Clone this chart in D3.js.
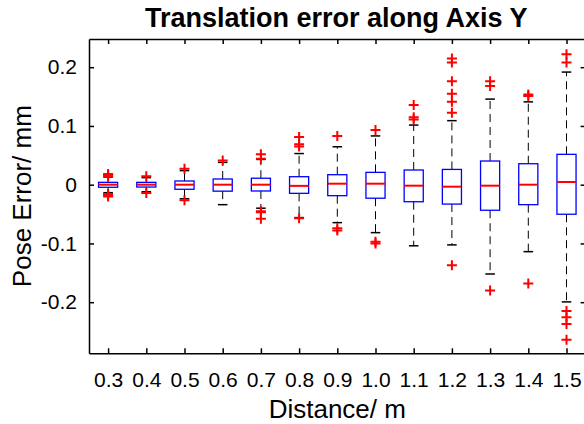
<!DOCTYPE html>
<html>
<head>
<script src="https://cdn.jsdelivr.net/npm/d3@7"></script>
<style>
  body { margin: 0; background: #fff; }
  text { font-family: "Liberation Sans", Arial, sans-serif; }
</style>
</head>
<body>
<svg id="chart" width="584" height="424"></svg>
<script>
// categories (distance in m)
var categories = ["0.3","0.4","0.5","0.6","0.7","0.8","0.9","1.0","1.1","1.2","1.3","1.4","1.5"];
// box statistics (mm)
var q1s      = [-0.0044,-0.004,-0.0078,-0.011,-0.0107,-0.0147,-0.0187,-0.023,-0.029,-0.033,-0.0435,-0.034,-0.0503];
var medians  = [0, 0, 0, 0, 0, -0.002, 0.0017, 0.0017, -0.0017, -0.0034, -0.0017, 0, 0.0046];
var q3s      = [0.004, 0.004, 0.0063, 0.0097, 0.011, 0.0136, 0.017, 0.021, 0.025, 0.026, 0.0403, 0.0357, 0.0517];
var lowWhisk = [-0.0136,-0.012,-0.024,-0.034,-0.040,-0.056,-0.0646,-0.0816,-0.104,-0.1025,-0.152,-0.114,-0.1995];
var highWhisk= [0.013, 0.012, 0.024, 0.038, 0.043, 0.053, 0.0646, 0.083, 0.1015, 0.109, 0.1457, 0.141, 0.1917];
var outliers = [
  [0.018, 0.016, 0.014, -0.016, -0.018, -0.020],
  [0.0145, -0.014],
  [0.027, -0.0265],
  [0.041],
  [0.052, 0.044, -0.045, -0.047, -0.058],
  [0.081, 0.069, 0.065, -0.057],
  [0.083, -0.074, -0.078],
  [0.093, -0.097, -0.100],
  [0.1355, 0.1146, 0.111],
  [0.215, 0.208, 0.176, 0.155, 0.141, 0.1224, -0.137],
  [0.176, 0.168, -0.18],
  [0.1537, 0.151, -0.168],
  [0.222, 0.208, -0.215, -0.2255, -0.237, -0.264]
];
var yTicks = [-0.2, -0.1, 0, 0.1, 0.2];
var yTickLabels = ["-0.2", "-0.1", "0", "0.1", "0.2"];

// layout
var margin = {left: 89, right: 585.6, top: 39, bottom: 353.3};
var svg = d3.select("svg#chart");

var x = d3.scaleLinear().domain([0.5, categories.length + 0.5]).range([margin.left, margin.right]);
var y = d3.scaleLinear().domain([-0.287, 0.248]).range([margin.bottom, margin.top]);
var step = x(2) - x(1);
var boxW = step * 0.5, capW = boxW * 0.5, plus = 5;

// title and axis labels
svg.append("text").attr("x", (margin.left + margin.right) / 2 - 1).attr("y", 27).attr("text-anchor", "middle")
    .style("font-size", "27px").style("font-weight", "bold").text("Translation error along Axis Y");
svg.append("text").attr("x", (margin.left + margin.right) / 2).attr("y", 418).attr("text-anchor", "middle")
    .style("font-size", "26px").text("Distance/ m");
svg.append("text").attr("transform", "translate(31," + ((margin.top + margin.bottom) / 2) + ") rotate(-90)")
    .attr("text-anchor", "middle").style("font-size", "26px").text("Pose Error/ mm");

// boxes
var g = svg.append("g");
categories.forEach(function(c, i) {
    var cx = x(i + 1);
    var dash = "8,5";
    // whiskers
    g.append("line").attr("x1", cx).attr("x2", cx).attr("y1", y(q3s[i])).attr("y2", y(highWhisk[i]))
        .attr("stroke", "#000").attr("stroke-width", 1).attr("stroke-dasharray", dash);
    g.append("line").attr("x1", cx).attr("x2", cx).attr("y1", y(q1s[i])).attr("y2", y(lowWhisk[i]))
        .attr("stroke", "#000").attr("stroke-width", 1).attr("stroke-dasharray", dash);
    // caps
    [highWhisk[i], lowWhisk[i]].forEach(function(v) {
        g.append("line").attr("x1", cx - capW / 2).attr("x2", cx + capW / 2).attr("y1", y(v)).attr("y2", y(v))
            .attr("stroke", "#000").attr("stroke-width", 1.5);
    });
    // box
    g.append("rect").attr("x", cx - boxW / 2).attr("y", y(q3s[i])).attr("width", boxW)
        .attr("height", y(q1s[i]) - y(q3s[i])).attr("fill", "none").attr("stroke", "#0000ff").attr("stroke-width", 1.3);
    // median
    g.append("line").attr("x1", cx - boxW / 2).attr("x2", cx + boxW / 2).attr("y1", y(medians[i])).attr("y2", y(medians[i]))
        .attr("stroke", "#ff0000").attr("stroke-width", 2);
    // outliers
    outliers[i].forEach(function(v) {
        g.append("path").attr("d", "M" + (cx - plus) + "," + y(v) + "H" + (cx + plus) + "M" + cx + "," + (y(v) - plus) + "V" + (y(v) + plus))
            .attr("stroke", "#ff0000").attr("stroke-width", 2).attr("fill", "none");
    });
});

// axes with inward ticks on all sides
var tickLen = 5;
var cats = categories.map(function(c, i) { return i + 1; });
var xb = d3.axisBottom(x).tickValues(cats).tickFormat(function(d) { return categories[d - 1]; }).tickSizeInner(-tickLen).tickSizeOuter(0).tickPadding(19);
var xt = d3.axisTop(x).tickValues(cats).tickFormat("").tickSizeInner(-tickLen).tickSizeOuter(0);
var yl = d3.axisLeft(y).tickValues(yTicks).tickFormat(function(d, k) { return yTickLabels[k]; }).tickSizeInner(-tickLen).tickSizeOuter(0).tickPadding(12);
var yr = d3.axisRight(y).tickValues(yTicks).tickFormat("").tickSizeInner(-tickLen).tickSizeOuter(0);

var axes = [
    svg.append("g").attr("transform", "translate(0," + margin.bottom + ")").call(xb),
    svg.append("g").attr("transform", "translate(0," + margin.top + ")").call(xt),
    svg.append("g").attr("transform", "translate(" + margin.left + ",0)").call(yl),
    svg.append("g").attr("transform", "translate(" + margin.right + ",0)").call(yr)
];
axes.forEach(function(a) {
    a.selectAll("path").attr("stroke", "#000").attr("stroke-width", 1.5);
    a.selectAll("line").attr("stroke", "#000").attr("stroke-width", 1.5);
    a.selectAll("text").attr("fill", "#000").style("font-size", "21px").style("font-family", "Liberation Sans, Arial, sans-serif");
});
</script>
</body>
</html>
